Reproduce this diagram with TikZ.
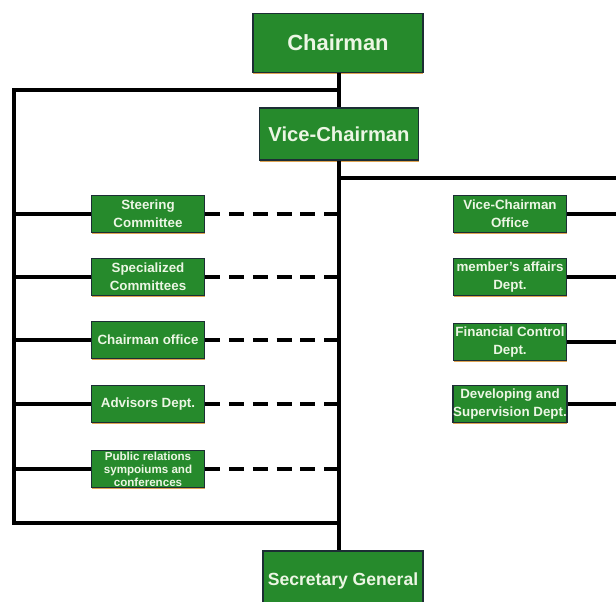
\documentclass[tikz,border=0pt]{standalone}
\usepackage{fontspec}
\setmainfont{Liberation Sans}
\usepackage{xcolor}
\usetikzlibrary{positioning, calc, shadows}
\definecolor{boxgreen}{RGB}{38, 138, 44}
\definecolor{boxedge}{RGB}{28, 46, 52}
\definecolor{glow}{RGB}{214, 140, 40}
\definecolor{label}{RGB}{236, 246, 228}
\tikzset{
    box/.style={rectangle, draw=boxedge, line width=1.1pt, fill=boxgreen, text=label, align=center, inner sep=0pt,
        drop shadow={fill=glow, opacity=0.8, shadow xshift=0pt, shadow yshift=-1.1pt}},
    bigbox/.style={box, font=\fontsize{12.5}{14}\selectfont\bfseries},
    unit/.style={box, minimum width=2.26cm, minimum height=0.74cm, font=\fontsize{7.6}{10}\selectfont\bfseries},
    link/.style={line width=1.8pt, black},
    dotlink/.style={link, dash pattern=on 8.5pt off 5pt}
}
\begin{document}
\begin{tikzpicture}[x=0.2mm, y=-0.2mm]
    \useasboundingbox (0,0) rectangle (616,601);

    \node[bigbox, minimum width=3.4cm, minimum height=1.18cm] (chair) at (338,43) {Chairman};
    \node[bigbox, minimum width=3.18cm, minimum height=1.04cm, font=\fontsize{11.5}{14}\selectfont\bfseries] (vice) at (339,134) {Vice-Chairman};
    \node[bigbox, minimum width=3.2cm, minimum height=1.2cm, font=\fontsize{10}{12}\selectfont\bfseries] (sec) at (343,581) {Secretary General};

    \node[unit] (steer) at (148,214) {Steering\\Committee};
    \node[unit] (spec) at (148,277) {Specialized\\Committees};
    \node[unit] (office) at (148,340) {Chairman office};
    \node[unit] (advis) at (148,404) {Advisors Dept.};
    \node[unit, font=\fontsize{6.6}{7.4}\selectfont\bfseries] (public) at (148,469) {Public relations\\sympoiums and\\conferences};

    \node[unit] (viceoff) at (510,214) {Vice-Chairman\\Office};
    \node[unit] (member) at (510,277) {member's affairs\\Dept.};
    \node[unit] (finance) at (510,342) {Financial Control\\Dept.};
    \node[unit] (develop) at (510,404) {Developing and\\Supervision Dept.};

    \coordinate (topleft) at (14,90);
    \coordinate (botleft) at (14,523);
    \coordinate (rightend) at (620,178);

    \draw[link] (chair.south -| vice) -- (vice.north);
    \draw[link] (vice.south) -- (vice.south |- sec.north);
    \draw[link] (topleft -| vice) -- (topleft) -- (botleft) -- (botleft -| vice);
    \draw[link] (rightend -| vice) -- (rightend);

    \draw[link] (topleft |- steer) -- (steer.west);
    \draw[link] (topleft |- spec) -- (spec.west);
    \draw[link] (topleft |- office) -- (office.west);
    \draw[link] (topleft |- advis) -- (advis.west);
    \draw[link] (topleft |- public) -- (public.west);

    \draw[dotlink] (steer.east) -- (steer -| vice);
    \draw[dotlink] (spec.east) -- (spec -| vice);
    \draw[dotlink] (office.east) -- (office -| vice);
    \draw[dotlink] (advis.east) -- (advis -| vice);
    \draw[dotlink] (public.east) -- (public -| vice);

    \draw[link] (viceoff.east) -- (viceoff -| rightend);
    \draw[link] (member.east) -- (member -| rightend);
    \draw[link] (finance.east) -- (finance -| rightend);
    \draw[link] (develop.east) -- (develop -| rightend);
\end{tikzpicture}
\end{document}
